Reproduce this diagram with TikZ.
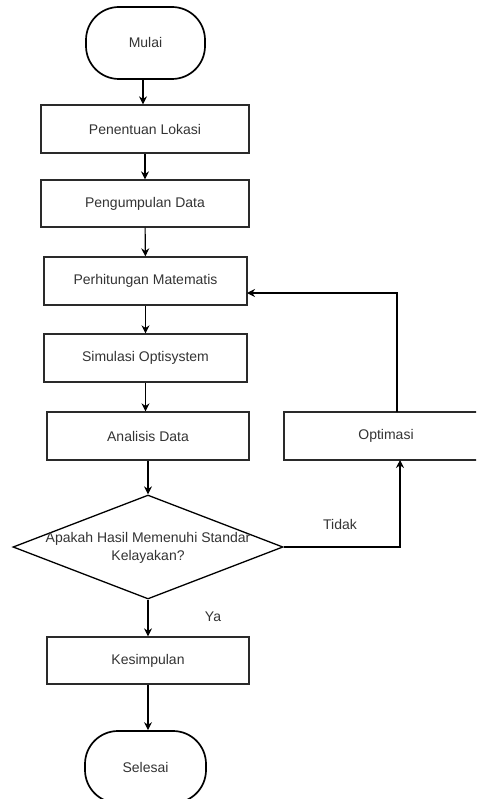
\documentclass[tikz,border=0pt]{standalone}
\usepackage{fontspec}
\setmainfont{Liberation Sans}
\usetikzlibrary{shapes.geometric,arrows.meta}
\definecolor{txt}{HTML}{333333}
\definecolor{edge}{HTML}{2A2A2A}
\tikzset{
  base/.style={font=\fontsize{14}{18}\selectfont, text=txt, align=center, inner sep=0pt},
  procbox/.style={base, draw=edge, line width=1.3pt, rectangle},
  term/.style={base, draw=black, line width=1.7pt, rectangle, rounded corners=33pt, minimum width=119pt, minimum height=72pt},
  decide/.style={draw=black, line width=1.3pt, diamond, minimum width=270pt, minimum height=104pt, inner sep=0pt},
  lbl/.style={base},
  flow/.style={draw=black, line width=1.1pt, -{Stealth[length=8pt,width=8pt]}},
}
\begin{document}
\begin{tikzpicture}[x=1pt,y=-1pt]
\useasboundingbox (0,0) rectangle (476,799);
\clip (0,0) rectangle (476,799);
\node[term] (mulai) at (145.5,43) {Mulai};
\node[procbox, minimum width=208pt, minimum height=48pt] (lok) at (145,129) {Penentuan Lokasi};
\node[procbox, minimum width=208pt, minimum height=47pt] (kumpul) at (145,203.5) {Pengumpulan Data};
\node[procbox, minimum width=203pt, minimum height=48pt] (hitung) at (145.5,281) {Perhitungan Matematis};
\node[procbox, minimum width=203pt, minimum height=48pt] (sim) at (145.5,358) {Simulasi Optisystem};
\node[procbox, minimum width=202pt, minimum height=48pt] (ana) at (148,436) {Analisis Data};
\node[procbox, minimum width=204pt, minimum height=48pt] (opt) at (386,436) {Optimasi};
\node[decide] (dec) at (148,547) {};
\node[base] (dectext) at (148,547.5) {Apakah Hasil Memenuhi Standar\\Kelayakan?};
\node[procbox, minimum width=202pt, minimum height=47pt] (kes) at (148,660.5) {Kesimpulan};
\node[term, minimum width=121pt] (sel) at (145.5,767) {Selesai};
\node[lbl] (tidak) at (340,524) {Tidak};
\node[lbl] (ya) at (213,617) {Ya};
\coordinate (mout) at (143,79);
\coordinate (optin) at (400,460);
\coordinate (optout) at (397,412);
\coordinate (hitin) at (247,293);
\draw[flow] (mout) -- (mout |- lok.north);
\draw[flow] (lok) -- (kumpul);
\draw[flow] (kumpul) -- (hitung);
\draw[flow] (hitung.south) -- (hitung.south |- sim.north);
\draw[flow] (sim.south) -- (sim.south |- ana.north);
\draw[flow] (ana.south) -- (dec.north);
\draw[flow] (dec.south) -- (kes.north);
\draw[flow] (kes.south) -- (kes.south |- sel.north);
\draw[flow] (dec.east) -| (optin);
\draw[flow] (optout) |- (hitin);
\end{tikzpicture}
\end{document}
